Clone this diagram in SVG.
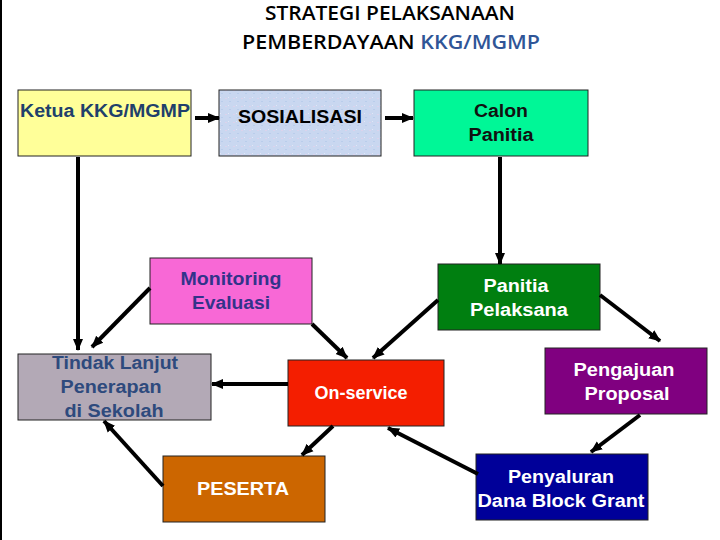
<svg xmlns="http://www.w3.org/2000/svg" width="720" height="540" viewBox="0 0 720 540">
<defs>
<marker id="ah" markerUnits="userSpaceOnUse" markerWidth="12" markerHeight="12" viewBox="0 0 12 12" refX="11" refY="6" orient="auto">
<path d="M0,1 L12,6 L0,11 Z" fill="#000"/>
</marker>
<pattern id="tex" width="8" height="8" patternUnits="userSpaceOnUse">
<rect width="8" height="8" fill="#C9D7F0"/>
<rect x="1" y="2" width="2" height="1" fill="#DCD3EC"/>
<rect x="5" y="5" width="2" height="1" fill="#B9CDEB"/>
<rect x="4" y="1" width="1" height="1" fill="#E2E6F6"/>
</pattern>
</defs>
<style>
.box{stroke:#222;stroke-width:1}
.t{font-family:"Liberation Sans",Arial,sans-serif;font-weight:bold;font-size:18px;text-anchor:middle}
.w{fill:#fff}
.c line{stroke:#000;stroke-width:4;marker-end:url(#ah)}
.title{font-family:"Open Sans","Noto Sans",sans-serif;font-size:19px;font-weight:600;text-anchor:middle;fill:#000}
</style>
<rect width="720" height="540" fill="#fff"/>
<line x1="1" y1="0" x2="1" y2="540" stroke="#000" stroke-width="2"/>
<g id="title">
<text class="title" x="390" y="20" textLength="250" lengthAdjust="spacingAndGlyphs">STRATEGI PELAKSANAAN</text>
<text class="title" x="391" y="49" textLength="298" lengthAdjust="spacingAndGlyphs">PEMBERDAYAAN <tspan fill="#2F5597">KKG/MGMP</tspan></text>
</g>
<g id="ketua">
<rect class="box" x="18" y="90" width="173" height="66" fill="#FFFF99"/>
<text class="t" x="105" y="117" fill="#213F6B" font-size="19" textLength="170" lengthAdjust="spacingAndGlyphs">Ketua KKG/MGMP</text>
</g>
<g id="sosialisasi">
<rect class="box" x="219" y="90" width="162" height="66" fill="url(#tex)"/>
<text class="t" x="300" y="123" fill="#000" font-size="15" textLength="124" lengthAdjust="spacingAndGlyphs">SOSIALISASI</text>
</g>
<g id="calon">
<rect class="box" x="414" y="90" width="174" height="66" fill="#00F797"/>
<text class="t" x="501" y="117" fill="#111" textLength="54" lengthAdjust="spacingAndGlyphs">Calon</text>
<text class="t" x="501" y="141" fill="#111" textLength="65" lengthAdjust="spacingAndGlyphs">Panitia</text>
</g>
<g id="monitoring">
<rect class="box" x="150" y="258" width="162" height="66" fill="#F868D6"/>
<text class="t" x="231" y="285" fill="#33338A" textLength="101" lengthAdjust="spacingAndGlyphs">Monitoring</text>
<text class="t" x="231" y="309" fill="#33338A" textLength="78" lengthAdjust="spacingAndGlyphs">Evaluasi</text>
</g>
<g id="panitia">
<rect class="box" x="438" y="264" width="162" height="66" fill="#007F10"/>
<text class="t w" x="516" y="292" textLength="65" lengthAdjust="spacingAndGlyphs">Panitia</text>
<text class="t w" x="519" y="316" textLength="98" lengthAdjust="spacingAndGlyphs">Pelaksana</text>
</g>
<g id="tindak">
<rect class="box" x="18" y="354" width="193" height="66" fill="#B3A9B6"/>
<text class="t" x="115" y="369" fill="#2E4A7D" textLength="126" lengthAdjust="spacingAndGlyphs">Tindak Lanjut</text>
<text class="t" x="111" y="393" fill="#2E4A7D" textLength="101" lengthAdjust="spacingAndGlyphs">Penerapan</text>
<text class="t" x="114" y="417" fill="#2E4A7D" textLength="99" lengthAdjust="spacingAndGlyphs">di Sekolah</text>
</g>
<g id="onservice">
<rect class="box" x="288" y="360" width="156" height="66" fill="#F41E00"/>
<text class="t w" x="361" y="399" font-size="16" textLength="93" lengthAdjust="spacingAndGlyphs">On-service</text>
</g>
<g id="pengajuan">
<rect class="box" x="545" y="348" width="162" height="66" fill="#800080"/>
<text class="t w" x="624" y="376" textLength="101" lengthAdjust="spacingAndGlyphs">Pengajuan</text>
<text class="t w" x="627" y="400" textLength="85" lengthAdjust="spacingAndGlyphs">Proposal</text>
</g>
<g id="peserta">
<rect class="box" x="163" y="456" width="162" height="66" fill="#CC6600"/>
<text class="t w" x="243" y="495" textLength="92" lengthAdjust="spacingAndGlyphs">PESERTA</text>
</g>
<g id="penyaluran">
<rect class="box" x="476" y="454" width="172" height="66" fill="#000099"/>
<text class="t w" x="561" y="483" textLength="106" lengthAdjust="spacingAndGlyphs">Penyaluran</text>
<text class="t w" x="561" y="507" textLength="167" lengthAdjust="spacingAndGlyphs">Dana Block Grant</text>
</g>
<g id="connectors" class="c">
<line x1="195" y1="118" x2="219" y2="118"/>
<line x1="385" y1="118" x2="413" y2="118"/>
<line x1="78" y1="157" x2="78" y2="350"/>
<line x1="500" y1="157" x2="500" y2="264"/>
<line x1="150" y1="288" x2="92" y2="347"/>
<line x1="312" y1="324" x2="347" y2="358"/>
<line x1="438" y1="300" x2="373" y2="358"/>
<line x1="600" y1="295" x2="660" y2="341"/>
<line x1="288" y1="384" x2="212" y2="384"/>
<line x1="333" y1="426" x2="302" y2="455"/>
<line x1="478" y1="474" x2="388" y2="428"/>
<line x1="163" y1="486" x2="104" y2="421"/>
<line x1="640" y1="415" x2="591" y2="452"/>
</g>
</svg>
